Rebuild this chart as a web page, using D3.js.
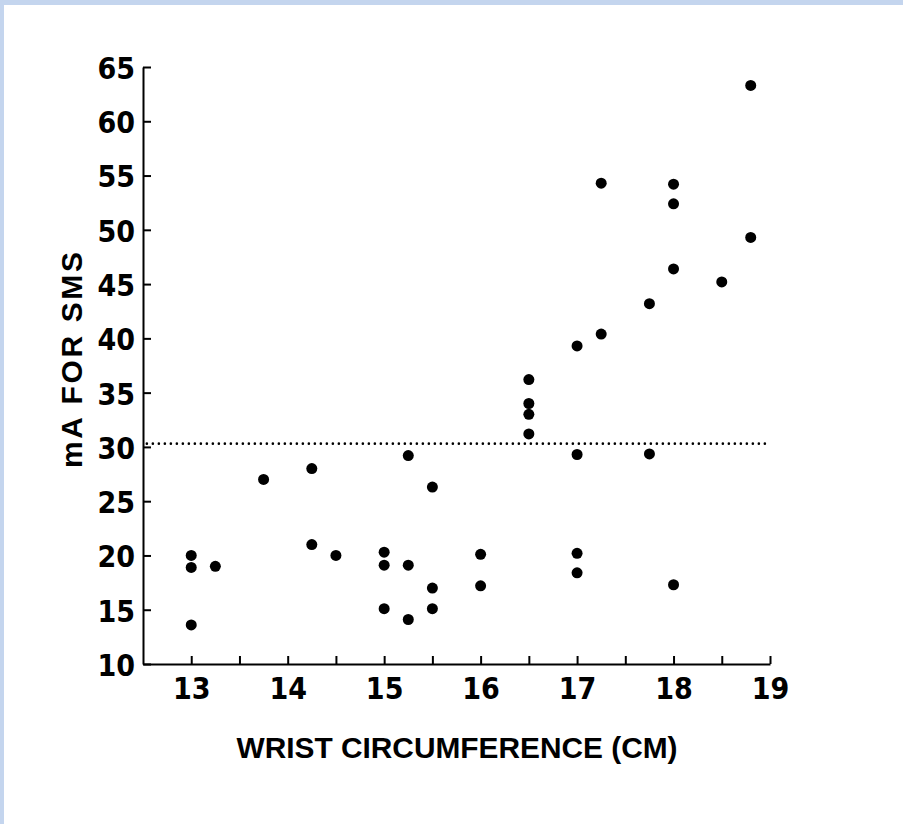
<!DOCTYPE html>
<html>
<head>
<meta charset="utf-8">
<script src="https://cdn.jsdelivr.net/npm/d3@7"></script>
<style>
  body { margin: 0; background: #ffffff; }
  svg text { font-family: "Liberation Sans", Arial, sans-serif; font-weight: bold; fill: #000; }
  svg .tick text { font-family: "Liberation Sans Narrow", "DejaVu Sans Condensed", "Liberation Sans", sans-serif; }
</style>
</head>
<body>
<div id="plot"></div>
<script>
// data
const wrist = [13, 13, 13, 13.25, 13.75, 14.25, 14.25, 14.5, 15, 15, 15,
  15.25, 15.25, 15.25, 15.5, 15.5, 15.5, 16, 16, 16.5, 16.5, 16.5, 16.5,
  17, 17, 17, 17, 17.25, 17.25, 17.75, 17.75, 18, 18, 18, 18, 18.5, 18.8, 18.8];
const mA = [20.0, 18.9, 13.6, 19.0, 27.0, 28.0, 21.0, 20.0, 20.3, 19.1, 15.1,
  29.2, 19.1, 14.1, 26.3, 17.0, 15.1, 20.1, 17.2, 36.2, 34.0, 33.0, 31.2,
  39.3, 29.3, 20.2, 18.4, 54.3, 40.4, 43.2, 29.35, 54.2, 52.4, 46.4, 17.3, 45.2, 49.3, 63.3];
const xTicks = [13, 13.5, 14, 14.5, 15, 15.5, 16, 16.5, 17, 17.5, 18, 18.5, 19];
const yTicks = [10, 15, 20, 25, 30, 35, 40, 45, 50, 55, 60, 65];
const threshold = 30.3;

// Width and height
const w = 903;
const h = 824;
const margin = {top: 67, right: 133, bottom: 160, left: 143};
const innerWidth = w - margin.left - margin.right;
const innerHeight = h - margin.top - margin.bottom;

const svg = d3.select("div#plot")
  .append("svg")
    .attr("width", w)
    .attr("height", h);

// scan frame: pale blue strip on top and left
svg.append("rect")
  .attr("width", w)
  .attr("height", h)
  .attr("fill", "#c4d5ee");
svg.append("rect")
  .attr("x", 4)
  .attr("y", 5)
  .attr("width", w - 4)
  .attr("height", h - 5)
  .attr("fill", "#ffffff");

const g = svg.append("g")
  .attr("id", "plot")
  .attr("transform", `translate(${margin.left}, ${margin.top})`);

const xScale = d3.scaleLinear()
  .domain([12.5, 19])
  .range([0, innerWidth]);

const yScale = d3.scaleLinear()
  .domain([10, 65])
  .range([innerHeight, 0]);

const xAxis = d3.axisBottom(xScale)
  .tickValues(xTicks)
  .tickSize(-8)
  .tickSizeOuter(0)
  .tickPadding(14)
  .tickFormat(d => Number.isInteger(d) ? d : "");

const yAxis = d3.axisLeft(yScale)
  .tickValues(yTicks)
  .tickSize(-8)
  .tickSizeOuter(0)
  .tickPadding(8);

// x axis
g.append("g")
  .attr("id", "xaxis")
  .attr("transform", `translate(0, ${innerHeight})`)
  .call(xAxis)
  .call(a => a.selectAll("path, line").attr("stroke", "#000").attr("stroke-width", 2))
  .call(a => a.selectAll("text").style("font-size", "30px"))
  .call(a => a.selectAll("text").filter(d => !Number.isInteger(d)).remove());

// y axis
g.append("g")
  .attr("id", "yaxis")
  .call(yAxis)
  .call(a => a.selectAll("path, line").attr("stroke", "#000").attr("stroke-width", 2))
  .call(a => a.selectAll("text")
    .attr("dy", "0.38em")
    .style("font-size", "30px"));

// dotted reference line
g.append("line")
  .attr("x1", xScale(12.54))
  .attr("x2", xScale(18.98))
  .attr("y1", yScale(threshold))
  .attr("y2", yScale(threshold))
  .attr("stroke", "#000")
  .attr("stroke-width", 2.6)
  .attr("stroke-linecap", "round")
  .attr("stroke-dasharray", "0 6");

// points
g.selectAll("circle")
  .data(wrist.map((d, i) => [d, mA[i]]))
  .enter()
  .append("circle")
    .attr("cx", d => xScale(d[0]))
    .attr("cy", d => yScale(d[1]))
    .attr("r", 5.5)
    .attr("fill", "#000");

// x label
svg.append("text")
  .attr("x", 457)
  .attr("y", 758)
  .attr("text-anchor", "middle")
  .attr("textLength", 441)
  .attr("lengthAdjust", "spacingAndGlyphs")
  .style("font-size", "29px")
  .text("WRIST CIRCUMFERENCE (CM)");

// y label
svg.append("text")
  .attr("transform", "translate(82, 360) rotate(-90)")
  .attr("text-anchor", "middle")
  .attr("textLength", 216)
  .attr("lengthAdjust", "spacing")
  .style("font-size", "30px")
  .text("mA FOR SMS");
</script>
</body>
</html>
